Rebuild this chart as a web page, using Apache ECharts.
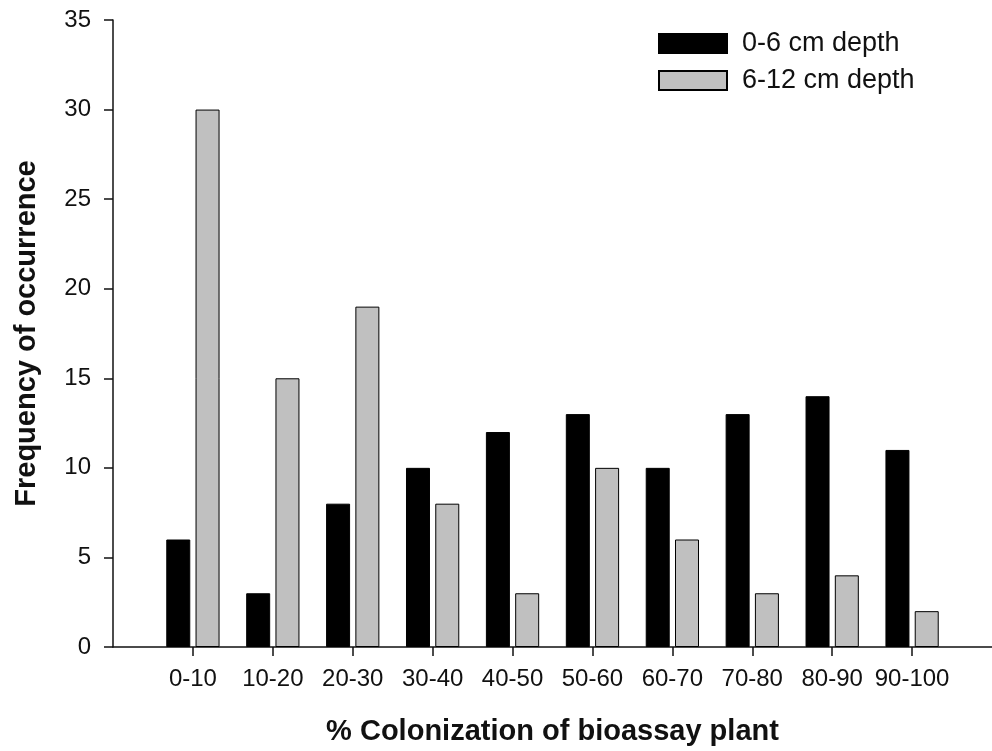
<!DOCTYPE html>
<html>
<head>
<meta charset="utf-8">
<script src="https://cdn.jsdelivr.net/npm/echarts@6/dist/echarts.min.js"></script>
<style>
  html, body { margin: 0; padding: 0; background: #fff; }
  #chart { width: 992px; height: 751px; }
</style>
</head>
<body>
<div id="chart"></div>
<script>
const categories = ['0-10', '10-20', '20-30', '30-40', '40-50', '50-60', '60-70', '70-80', '80-90', '90-100']
const shallow = [6, 3, 8, 10, 12, 13, 10, 13, 14, 11]
const deep = [30, 15, 19, 8, 3, 10, 6, 3, 4, 2]
const yTicks = [0, 5, 10, 15, 20, 25, 30, 35]

// categories sit at 1..10 on a value axis so the axis line can run past them
const positions = categories.map((c, i) => i + 1)
const font = '"Liberation Sans", Arial, sans-serif'

const chart = echarts.init(document.getElementById('chart'))
chart.setOption({
  backgroundColor: '#ffffff',
  animation: false,
  textStyle: { fontFamily: font, color: '#111' },
  grid: { left: 113, right: 0, top: 20, bottom: 102 },
  legend: {
    left: 653,
    top: 25,
    orient: 'vertical',
    itemWidth: 68,
    itemHeight: 19,
    itemGap: 10,
    icon: 'rect',
    textStyle: { fontSize: 27, lineHeight: 27, color: '#111', fontFamily: font, padding: [0, 0, 0, 10] },
    data: ['0-6 cm depth', '6-12 cm depth']
  },
  xAxis: {
    type: 'value',
    min: 0,
    max: 11,
    interval: 1,
    splitLine: { show: false },
    axisLine: { show: true, onZero: false, lineStyle: { color: '#111', width: 1.5 } },
    axisTick: { show: true, length: 9, customValues: positions, lineStyle: { color: '#111', width: 1.5 } },
    axisLabel: {
      customValues: positions,
      margin: 20,
      fontSize: 24,
      color: '#111',
      formatter: v => categories[v - 1] || ''
    },
    name: '% Colonization of bioassay plant',
    nameLocation: 'middle',
    nameGap: 70,
    nameTextStyle: { fontSize: 29, fontWeight: 'bold', color: '#111' }
  },
  yAxis: {
    type: 'value',
    min: yTicks[0],
    max: yTicks[yTicks.length - 1],
    interval: 5,
    splitLine: { show: false },
    axisLine: { show: true, lineStyle: { color: '#111', width: 1.5 } },
    axisTick: { show: true, length: 9, lineStyle: { color: '#111', width: 1.5 } },
    axisLabel: { margin: 22, fontSize: 24, color: '#111' },
    name: 'Frequency of occurrence',
    nameLocation: 'middle',
    nameGap: 72,
    nameTextStyle: { fontSize: 29, fontWeight: 'bold', color: '#111' }
  },
  series: [
    {
      name: '0-6 cm depth',
      type: 'bar',
      barWidth: 24,
      barGap: '22%',
      itemStyle: { color: '#000000', borderColor: '#000000', borderWidth: 1 },
      data: positions.map((p, i) => [p, shallow[i]])
    },
    {
      name: '6-12 cm depth',
      type: 'bar',
      barWidth: 24,
      barGap: '22%',
      itemStyle: { color: '#c0c0c0', borderColor: '#000000', borderWidth: 1 },
      data: positions.map((p, i) => [p, deep[i]])
    }
  ]
})
</script>
</body>
</html>
